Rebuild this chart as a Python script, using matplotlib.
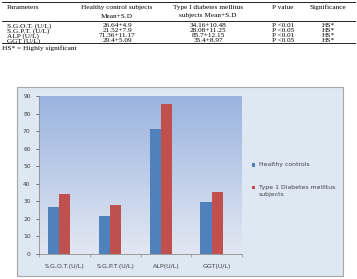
import numpy as np
import matplotlib.pyplot as plt
from matplotlib.patches import Rectangle
from matplotlib.colors import LinearSegmentedColormap

# table data
params = ["S.G.O.T. (U/L)", "S.G.P.T. (U/L)", "ALP (U/L)", "GGT (U/L)"]
healthy_txt = ["26.64+4.9", "21.52+7.9", "71.36+11.17", "29.4+5.09"]
diabetic_txt = ["34.16+10.48", "28.08+11.25", "85.7+12.15", "35.4+8.97"]
p_values = ["P <0.01", "P <0.05", "P <0.01", "P <0.05"]
signif = ["HS*", "HS*", "HS*", "HS*"]

# chart data
categories = ["S.G.O.T.(U/L)", "S.G.P.T.(U/L)", "ALP(U/L)", "GGT(U/L)"]
series = ["Healthy controls", "Type 1 Diabetes mellitus\nsubjects"]
healthy = [26.64, 21.52, 71.36, 29.4]
diabetic = [34.16, 28.08, 85.7, 35.4]
yticks = [0, 10, 20, 30, 40, 50, 60, 70, 80, 90]
colors = ["#4f81bd", "#c0504d"]

W, H = 357, 279
fig = plt.figure(figsize=(W / 100, H / 100), dpi=100)

def fx(x):
    return x / W

def fy(y):
    return 1 - y / H

# ---- table ----
serif = "Liberation Serif"
fs = 5.2
cols = [7, 117, 208, 283, 328]
for y in [1.5, 21, 43.3]:
    fig.add_artist(plt.Line2D([fx(2), fx(355)], [fy(y), fy(y)], color="black", lw=0.6))
fig.text(fx(cols[0]), fy(7.5), "Parameters", family=serif, fontsize=fs, va="center")
fig.text(fx(cols[1]), fy(7.5), "Healthy control subjects", family=serif, fontsize=fs, va="center", ha="center")
fig.text(fx(cols[1]), fy(16), "Mean+S.D", family=serif, fontsize=fs, va="center", ha="center")
fig.text(fx(cols[2]), fy(7.5), "Type I diabetes mellitus", family=serif, fontsize=fs, va="center", ha="center")
fig.text(fx(cols[2]), fy(16), "subjects Mean+S.D", family=serif, fontsize=fs, va="center", ha="center")
fig.text(fx(cols[3]), fy(7.5), "P value", family=serif, fontsize=fs, va="center", ha="center")
fig.text(fx(cols[4]), fy(7.5), "Significance", family=serif, fontsize=fs, va="center", ha="center")
for i in range(4):
    y = fy(25.8 + 5 * i)
    fig.text(fx(cols[0]), y, params[i], family=serif, fontsize=fs, va="center")
    fig.text(fx(cols[1]), y, healthy_txt[i], family=serif, fontsize=fs, va="center", ha="center")
    fig.text(fx(cols[2]), y, diabetic_txt[i], family=serif, fontsize=fs, va="center", ha="center")
    fig.text(fx(cols[3]), y, p_values[i], family=serif, fontsize=fs, va="center", ha="center")
    fig.text(fx(cols[4]), y, signif[i], family=serif, fontsize=fs, va="center", ha="center")
fig.text(fx(2), fy(48), "HS* = Highly significant", family=serif, fontsize=fs, va="center")

# ---- chart box ----
box = Rectangle((fx(17), fy(276)), fx(343) - fx(17), fy(87) - fy(276),
                facecolor="#dde8f2", edgecolor="#a6a6a6", lw=0.8, zorder=-5)
fig.add_artist(box)

ax = fig.add_axes([fx(39), fy(254), fx(242) - fx(39), fy(96) - fy(254)])
ax.set_facecolor("none")
grad = np.linspace(0, 1, 256).reshape(-1, 1)
cmap = LinearSegmentedColormap.from_list("g", ["#e2e8f2", "#9ab3df"])
ax.imshow(grad, extent=[0, 1, 0, 1], transform=ax.transAxes, aspect="auto",
          cmap=cmap, origin="lower", zorder=0)

x = np.arange(len(categories))
w = 0.22
ax.bar(x - 0.1 - w / 2, healthy, w, color=colors[0], zorder=2)
ax.bar(x - 0.1 + w / 2, diabetic, w, color=colors[1], zorder=2)

ax.set_xlim(-0.5, len(categories) - 0.5)
ax.set_ylim(0, 90)
ax.set_yticks(yticks)
ax.set_xticks(x)
ax.set_xticklabels(categories)
ax.set_xticks(np.arange(len(categories) + 1) - 0.5, minor=True)
ax.tick_params(axis="x", which="major", length=0, labelsize=4.6, colors="#404040", pad=7)
ax.tick_params(axis="x", which="minor", length=2.5, color="#8c8c8c", width=0.5)
ax.tick_params(axis="y", length=2, labelsize=4.3, colors="#404040", width=0.5, pad=4)
for s in ["top", "right"]:
    ax.spines[s].set_visible(False)
for s in ["left", "bottom"]:
    ax.spines[s].set_color("#8c8c8c")
    ax.spines[s].set_linewidth(0.6)

# legend
for i, (lab, y) in enumerate(zip(series, [165, 187.5])):
    fig.add_artist(Rectangle((fx(252), fy(y + 1.7)), fx(3.4), 3.4 / H, facecolor=colors[i], lw=0))
    fig.text(fx(259), fy(y), lab, fontsize=4.4, color="#404040", va="top",
             linespacing=1.6, transform=fig.transFigure).set_y(fy(y - 2.6))

fig.savefig("out.png", dpi=100)
